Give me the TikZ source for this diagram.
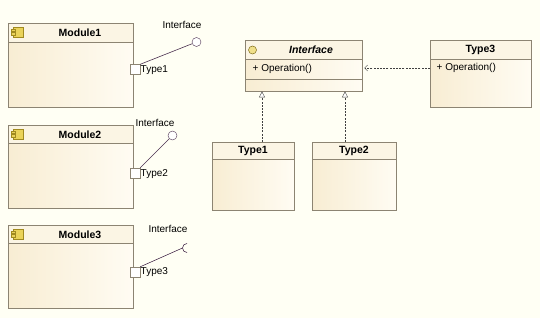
\documentclass[tikz,border=0pt]{standalone}
\usepackage{fontspec}
\setmainfont{Liberation Sans}
\usetikzlibrary{arrows.meta,calc}
\definecolor{bg}{HTML}{FFFFF4}
\definecolor{bord}{HTML}{8C8472}
\definecolor{fillA}{HTML}{F8EDD3}
\definecolor{fillB}{HTML}{FFFCF3}
\definecolor{hdr}{HTML}{FBF5E4}
\definecolor{ico}{HTML}{EAD35A}
\definecolor{icob}{HTML}{A08A20}
\definecolor{lnk}{HTML}{4A3050}
\definecolor{dep}{HTML}{404040}
\tikzset{
  box/.style={draw=bord, left color=fillA, right color=fillB, rectangle, inner sep=0pt, anchor=north west},
  hdrline/.style={draw=bord},
  ttl/.style={font=\bfseries\fontsize{10.5}{12}\selectfont, inner sep=0pt},
  txt/.style={font=\fontsize{10}{12}\selectfont, inner sep=0pt},
  port/.style={draw=bord, fill=white, rectangle, minimum size=10pt, inner sep=0pt},
  lolly/.style={circle, draw=lnk, fill=white, minimum size=9pt, inner sep=0pt},
  wire/.style={draw=lnk, line width=0.6pt},
  realize/.style={draw=dep, dash pattern=on 2pt off 1.2pt, -{Triangle[open, length=6pt, width=6pt, fill=white]}},
  depend/.style={draw=dep, dash pattern=on 2pt off 1.2pt, -{Straight Barb[length=3pt, width=6pt]}}
}
\newcommand\comphdr[2]{% node name, header height
  \fill[hdr] (#1.north west) rectangle ([yshift=-#2pt]#1.north east);
  \draw[bord] (#1.north west) rectangle (#1.south east);
  \draw[hdrline] ([yshift=-#2pt]#1.north west) -- ([yshift=-#2pt]#1.north east);
}
\newcommand\compicon[2]{% x y of icon top-left
  \filldraw[fill=ico, draw=icob, line width=0.5pt] (#1,#2) rectangle ++(10,10);
  \filldraw[fill=ico, draw=icob, line width=0.5pt] ($(#1,#2)+(-2,2)$) rectangle ++(4,2.5);
  \filldraw[fill=ico, draw=icob, line width=0.5pt] ($(#1,#2)+(-2,5.5)$) rectangle ++(4,2.5);
}
\begin{document}
\begin{tikzpicture}[x=1pt,y=-1pt]
\fill[bg] (0,0) rectangle (540,318);
\useasboundingbox (0,0) rectangle (540,318);

% ---------- Module 1 ----------
\node[box, minimum width=125pt, minimum height=84pt] (m1) at (8,23) {};
\comphdr{m1}{19}
\compicon{13}{27}
\node[ttl] (m1t) at (80,33) {Module1};
\node[port] (p1) at (135,69.5) {};
\node[txt, anchor=west] (p1t) at (140.5,70.5) {Type1};
\node[lolly] (c1) at (196.5,42) {};
\node[txt] (c1t) at (182,24.5) {Interface};
\draw[wire] (p1.north east) -- (c1);

% ---------- Module 2 ----------
\node[box, minimum width=125pt, minimum height=83pt] (m2) at (8,125) {};
\comphdr{m2}{18}
\compicon{13}{129}
\node[ttl] (m2t) at (80,134.5) {Module2};
\node[port] (p2) at (135,173) {};
\node[txt, anchor=west] (p2t) at (140.5,174) {Type2};
\node[lolly] (c2) at (172.5,135.5) {};
\node[txt] (c2t) at (155,123) {Interface};
\draw[wire] (p2.north east) -- (c2);

% ---------- Module 3 ----------
\node[box, minimum width=125pt, minimum height=83pt] (m3) at (8,225) {};
\comphdr{m3}{18}
\compicon{13}{229}
\node[ttl] (m3t) at (80,234.5) {Module3};
\node[port] (p3) at (135,272) {};
\node[txt, anchor=west] (p3t) at (140.5,272.5) {Type3};
\coordinate (s3) at (182.5,248);
\node[txt] (c3t) at (168,228.5) {Interface};
\draw[wire] (p3.north east) -- (s3);
\draw[wire] ([xshift=4.5pt,yshift=4.5pt]s3) arc[start angle=90, end angle=270, radius=4.5pt];

% ---------- Interface class ----------
\node[box, minimum width=117pt, minimum height=51pt] (if) at (245,40) {};
\comphdr{if}{19}
\draw[hdrline] ([yshift=-39pt]if.north west) -- ([yshift=-39pt]if.north east);
\filldraw[fill=ico!70!white, draw=icob!80!black, line width=0.5pt] (252.5,50) circle[radius=4pt];
\node[ttl, font=\bfseries\itshape\fontsize{10.5}{12}\selectfont] (ift) at (311,50) {Interface};
\node[txt, anchor=west] (ifop) at (252.5,69) {+ Operation()};

% ---------- Type3 class ----------
\node[box, minimum width=101pt, minimum height=67pt] (t3) at (430,40) {};
\comphdr{t3}{19}
\node[ttl] (t3t) at (480.5,49.5) {Type3};
\node[txt, anchor=west] (t3op) at (436.5,68) {+ Operation()};

% ---------- Type1 / Type2 classes ----------
\node[box, minimum width=82pt, minimum height=68pt] (t1) at (212,142) {};
\comphdr{t1}{17}
\node[ttl] (t1t) at (253,150.5) {Type1};
\node[box, minimum width=84pt, minimum height=68pt] (t2) at (312,142) {};
\comphdr{t2}{17}
\node[ttl] (t2t) at (354,150.5) {Type2};

% ---------- connectors ----------
\coordinate (t1a) at ($(t1.north west)+(50,0)$);
\coordinate (t2a) at ($(t2.north west)+(33,0)$);
\draw[realize] (t1a) -- (t1a |- if.south);
\draw[realize] (t2a) -- (t2a |- if.south);
\coordinate (t3a) at ($(t3.north west)+(0,28)$);
\draw[depend] (t3a) -- ([xshift=2pt]t3a -| if.east);
\end{tikzpicture}
\end{document}
